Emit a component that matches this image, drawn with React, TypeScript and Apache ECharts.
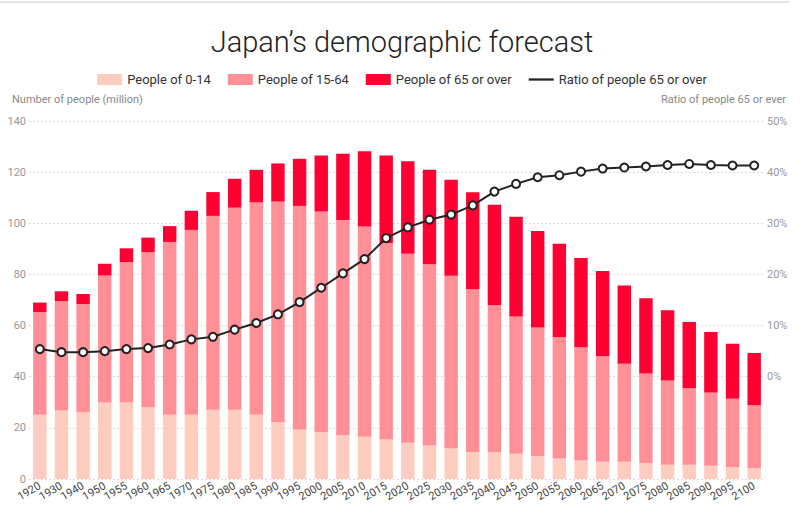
import React, { useEffect, useRef } from "react";
import * as echarts from "echarts";

const years = [
  "1920", "1930", "1940", "1950", "1955", "1960", "1965", "1970", "1975", "1980",
  "1985", "1990", "1995", "2000", "2005", "2010", "2015", "2020", "2025", "2030",
  "2035", "2040", "2045", "2050", "2055", "2060", "2065", "2070", "2075", "2080",
  "2085", "2090", "2095", "2100",
];

const age0to14 = [
  25.1, 26.8, 26.1, 29.9, 29.9, 28.1, 25.1, 25.1, 27.1, 27.1,
  25.1, 22.2, 19.4, 18.3, 17.1, 16.5, 15.4, 14.2, 13.1, 11.9,
  10.6, 10.6, 9.9, 8.9, 8.0, 7.2, 6.7, 6.7, 6.3, 5.6,
  5.6, 5.2, 4.7, 4.2,
];

const age15to64 = [
  40.2, 42.8, 42.3, 49.7, 54.9, 60.6, 67.6, 72.3, 75.8, 79.0,
  83.1, 86.3, 87.4, 86.3, 84.2, 82.2, 76.9, 73.9, 70.9, 67.6,
  63.6, 57.4, 53.6, 50.3, 47.5, 44.3, 41.4, 38.4, 35.0, 32.9,
  29.9, 28.6, 26.7, 24.7,
];

const age65plus = [
  3.7, 3.8, 3.9, 4.6, 5.4, 5.7, 6.2, 7.5, 9.3, 11.3,
  12.7, 14.9, 18.4, 21.9, 25.9, 29.5, 34.2, 36.2, 36.9, 37.5,
  37.9, 39.2, 39.1, 37.8, 36.5, 34.9, 33.2, 30.6, 29.4, 27.5,
  25.9, 23.7, 21.5, 20.4,
];

const ratio65 = [
  5.4, 4.8, 4.8, 5.0, 5.4, 5.6, 6.3, 7.3, 7.8, 9.2,
  10.5, 12.2, 14.6, 17.4, 20.2, 23.0, 27.1, 29.2, 30.7, 31.7,
  33.5, 36.2, 37.7, 39.0, 39.4, 40.1, 40.7, 40.9, 41.1, 41.4,
  41.6, 41.4, 41.3, 41.3,
];

const FONT = "Roboto, 'Noto Sans', sans-serif";

export default function App() {
  const ref = useRef<HTMLDivElement>(null);

  useEffect(() => {
    if (!ref.current) return;
    const chart = echarts.init(ref.current, null, { renderer: "svg" });
    chart.setOption({
      animation: false,
      backgroundColor: "#ffffff",
      textStyle: { fontFamily: FONT },
      title: {
        text: "Japan’s demographic forecast",
        left: "center",
        top: 22,
        textStyle: { fontFamily: FONT, fontSize: 29, fontWeight: 300, color: "#222" },
      },
      legend: {
        top: 68,
        left: "center",
        itemWidth: 25,
        itemHeight: 11,
        itemGap: 17,
        textStyle: { fontFamily: FONT, fontSize: 13, color: "#333" },
        data: [
          { name: "People of 0-14", icon: "rect" },
          { name: "People of 15-64", icon: "rect" },
          { name: "People of 65 or over", icon: "rect" },
          {
            name: "Ratio of people 65 or over",
            icon: "path://M0,0 L22,0 L22,2 L0,2 Z",
            itemStyle: { color: "#222", borderWidth: 0 },
          },
        ],
      },
      graphic: [
        {
          type: "line",
          shape: { x1: 0, y1: 2, x2: 789, y2: 2 },
          style: { stroke: "#d8d8d8", lineWidth: 1.5 },
        },
        {
          type: "text",
          left: 12,
          top: 94,
          style: { text: "Number of people (million)", fontFamily: FONT, fontSize: 11, fill: "#888" },
        },
        {
          type: "text",
          right: 18,
          top: 94,
          style: { text: "Ratio of people 65 or ever", fontFamily: FONT, fontSize: 11, fill: "#888" },
        },
      ],
      grid: { left: 29, right: 39, top: 121, bottom: 44, containLabel: false },
      xAxis: {
        type: "category",
        data: years,
        axisTick: { show: false },
        axisLine: { show: false },
        axisLabel: {
          interval: 0,
          rotate: 30,
          fontSize: 11,
          color: "#444",
          margin: 6,
          fontFamily: FONT,
        },
      },
      yAxis: [
        {
          type: "value",
          min: 0,
          max: 140,
          interval: 20,
          axisLine: { show: false },
          axisTick: { show: false },
          splitLine: { lineStyle: { color: "#dddddd", type: [2, 2] } },
          axisLabel: { fontSize: 11, color: "#999", margin: 3, fontFamily: FONT },
        },
        {
          type: "value",
          min: -20,
          max: 50,
          interval: 10,
          axisLine: { show: false },
          axisTick: { show: false },
          splitLine: { show: false },
          axisLabel: {
            fontSize: 11,
            color: "#999",
            margin: 2,
            fontFamily: FONT,
            formatter: (v: number) => (v < 0 ? "" : v + "%"),
          },
        },
      ],
      series: [
        {
          name: "People of 0-14",
          type: "bar",
          stack: "pop",
          barWidth: "62%",
          itemStyle: { color: "#ffcdc0" },
          data: age0to14,
        },
        {
          name: "People of 15-64",
          type: "bar",
          stack: "pop",
          barWidth: "62%",
          itemStyle: { color: "#ff9097" },
          data: age15to64,
        },
        {
          name: "People of 65 or over",
          type: "bar",
          stack: "pop",
          barWidth: "62%",
          itemStyle: { color: "#ff0033" },
          data: age65plus,
        },
        {
          name: "Ratio of people 65 or over",
          type: "line",
          yAxisIndex: 1,
          symbol: "circle",
          symbolSize: 8,
          showAllSymbol: true,
          lineStyle: { color: "#222", width: 2 },
          itemStyle: { color: "#ffffff", borderColor: "#222", borderWidth: 2 },
          data: ratio65,
          z: 5,
        },
      ],
    });
    return () => chart.dispose();
  }, []);

  return (
    <div
      ref={ref}
      style={{ position: "absolute", left: 0, top: 0, width: 804, height: 523 }}
    />
  );
}
